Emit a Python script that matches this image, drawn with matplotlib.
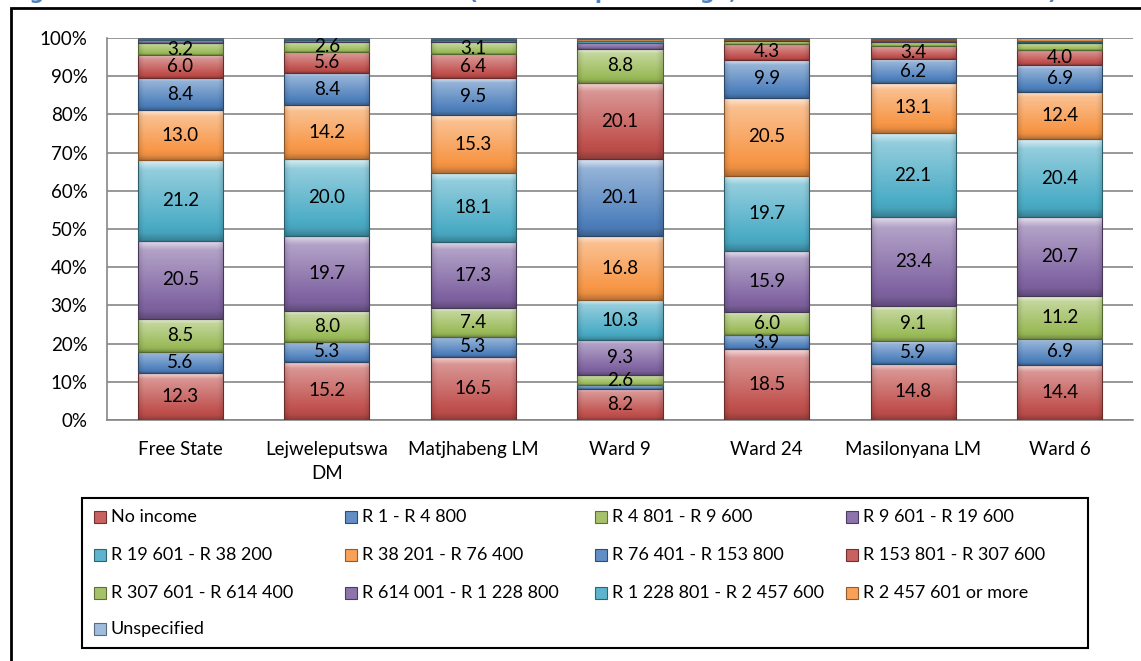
import numpy as np
import matplotlib.pyplot as plt
from matplotlib.colors import to_rgb
from matplotlib.patches import Rectangle

plt.rcParams['font.family'] = ['Lato', 'DejaVu Sans']

# ---- data (percent of households) ----
places = ["Free State", "Lejweleputswa\nDM", "Matjhabeng LM", "Ward 9",
          "Ward 24", "Masilonyana LM", "Ward 6"]

bands = ["No income", "R 1 - R 4 800", "R 4 801 - R 9 600", "R 9 601 - R 19 600",
         "R 19 601 - R 38 200", "R 38 201 - R 76 400", "R 76 401 - R 153 800",
         "R 153 801 - R 307 600", "R 307 601 - R 614 400", "R 614 001 - R 1 228 800",
         "R 1 228 801 - R 2 457 600", "R 2 457 601 or more", "Unspecified"]

no_income        = [12.3, 15.2, 16.5, 8.2, 18.5, 14.8, 14.4]
r1_4800          = [5.6, 5.3, 5.3, 0.9, 3.9, 5.9, 6.9]
r4801_9600       = [8.5, 8.0, 7.4, 2.6, 6.0, 9.1, 11.2]
r9601_19600      = [20.5, 19.7, 17.3, 9.3, 15.9, 23.4, 20.7]
r19601_38200     = [21.2, 20.0, 18.1, 10.3, 19.7, 22.1, 20.4]
r38201_76400     = [13.0, 14.2, 15.3, 16.8, 20.5, 13.1, 12.4]
r76401_153800    = [8.4, 8.4, 9.5, 20.1, 9.9, 6.2, 6.9]
r153801_307600   = [6.0, 5.6, 6.4, 20.1, 4.3, 3.4, 4.0]
r307601_614400   = [3.2, 2.6, 3.1, 8.8, 0.6, 1.2, 1.8]
r614001_1228800  = [0.7, 0.5, 0.6, 1.6, 0.3, 0.3, 0.4]
r1228801_2457600 = [0.3, 0.2, 0.3, 0.5, 0.2, 0.2, 0.3]
r2457601_plus    = [0.2, 0.2, 0.1, 0.6, 0.2, 0.3, 0.6]
unspecified      = [0.1, 0.1, 0.1, 0.2, 0.2, 0.2, 0.1]

series = [no_income, r1_4800, r4801_9600, r9601_19600, r19601_38200, r38201_76400,
          r76401_153800, r153801_307600, r307601_614400, r614001_1228800,
          r1228801_2457600, r2457601_plus, unspecified]

colors = ['#C0504D', '#4F81BD', '#9BBB59', '#8064A2', '#4BACC6', '#F79646',
          '#4F81BD', '#C0504D', '#9BBB59', '#8064A2', '#4BACC6', '#F79646', '#95B3D7']

title = "Figure 3.12: Annual household income (shown as percentage, Census 2011 and CS 2016)"


def shade(c, f):
    c = np.array(to_rgb(c))
    if f >= 0:
        return c + (1 - c) * f
    return c * (1 + f)


def bevel(c, ny=80, nx=40):
    # vertical light-to-dark ramp, a bit darker at the sides
    t = np.linspace(0, 1, ny)
    ts = [0.0, 0.1, 0.5, 0.88, 1.0]
    fs = [-0.25, -0.05, 0.18, 0.4, 0.8]
    f = np.interp(t, ts, fs)
    col = np.array([shade(c, v) for v in f])
    s = np.linspace(0, 1, nx)
    side = 1 - 0.12 * (np.clip(0.06 - np.minimum(s, 1 - s), 0, None) / 0.06)
    img = col[:, None, :] * side[None, :, None]
    return np.clip(img, 0, 1)


vals = np.array(series, dtype=float)
pct = vals / vals.sum(axis=0) * 100

W, H = 1141, 661
fig = plt.figure(figsize=(W / 100, H / 100), dpi=100)
ax = fig.add_axes([107 / W, (H - 420) / H, (1133 - 107) / W, (420 - 38) / H])

x = np.arange(len(places))
bw = 0.58
bottom = np.zeros(len(places))
for i, row in enumerate(pct):
    bars = ax.bar(x, row, bw, bottom=bottom, color=colors[i], linewidth=0, zorder=3)
    grad = bevel(colors[i])
    for b in bars:
        im = ax.imshow(grad, extent=(b.get_x(), b.get_x() + b.get_width(),
                                     b.get_y(), b.get_y() + b.get_height()),
                       origin='lower', aspect='auto', interpolation='bilinear', zorder=3.5)
        im.set_clip_path(b)
    ax.bar(x, row, bw, bottom=bottom, fill=False, edgecolor=shade(colors[i], -0.45),
           linewidth=0.8, zorder=4)
    for xi, v, b0, p in zip(x, vals[i], bottom, row):
        if v >= 2.5:
            ax.text(xi, b0 + p / 2, f'{v:.1f}', ha='center', va='center',
                    fontsize=13.5, zorder=5)
    bottom += row

ax.set_xlim(-0.5, len(places) - 0.5)
ax.set_ylim(0, 100)
ax.set_yticks(range(0, 101, 10))
ax.set_yticklabels([f'{v}%' for v in range(0, 101, 10)])
ax.set_xticks(x)
ax.set_xticklabels(places, linespacing=1.5)
ax.yaxis.grid(True, color='#868686', linewidth=1.2)
ax.set_axisbelow(True)
for s in ['top', 'right']:
    ax.spines[s].set_visible(False)
for s in ['left', 'bottom']:
    ax.spines[s].set_color('#868686')
    ax.spines[s].set_linewidth(1.2)
ax.tick_params(axis='y', length=0, labelsize=13.5, pad=14)
ax.tick_params(axis='x', length=0, labelsize=13.5, pad=15)

# legend, drawn as Excel lays it out: 4 equal columns, filled row by row
fig.patches.append(Rectangle((82 / W, 1 - 648 / H), (1088 - 82) / W, (648 - 498) / H,
                             transform=fig.transFigure, fill=False, edgecolor='black',
                             linewidth=1.5))
row_y = [517, 555, 593, 629]
for k, (name, c) in enumerate(zip(bands, colors)):
    cx = 94 + 250.7 * (k % 4)
    cy = row_y[k // 4]
    fig.patches.append(Rectangle((cx / W, 1 - (cy + 6) / H), 12 / W, 12 / H,
                                 transform=fig.transFigure, facecolor=shade(c, 0.1),
                                 edgecolor=shade(c, -0.4), linewidth=0.8))
    fig.text((cx + 17) / W, 1 - cy / H, name, ha='left', va='center', fontsize=13)

# outer frame of the chart object, partly off the page
fig.patches.append(Rectangle((11 / W, -0.1), 1.2, 1.1 - 8 / H, transform=fig.transFigure,
                             fill=False, edgecolor='black', linewidth=2, clip_on=False))

# title sits above the visible area; only its lower part shows (as in the source)
fig.text(8 / W, 1 + 1 / H, title, ha='left', va='baseline', fontsize=15,
         fontweight='bold', color='#4F81BD', family='DejaVu Sans')

fig.savefig('out.png', dpi=100)
